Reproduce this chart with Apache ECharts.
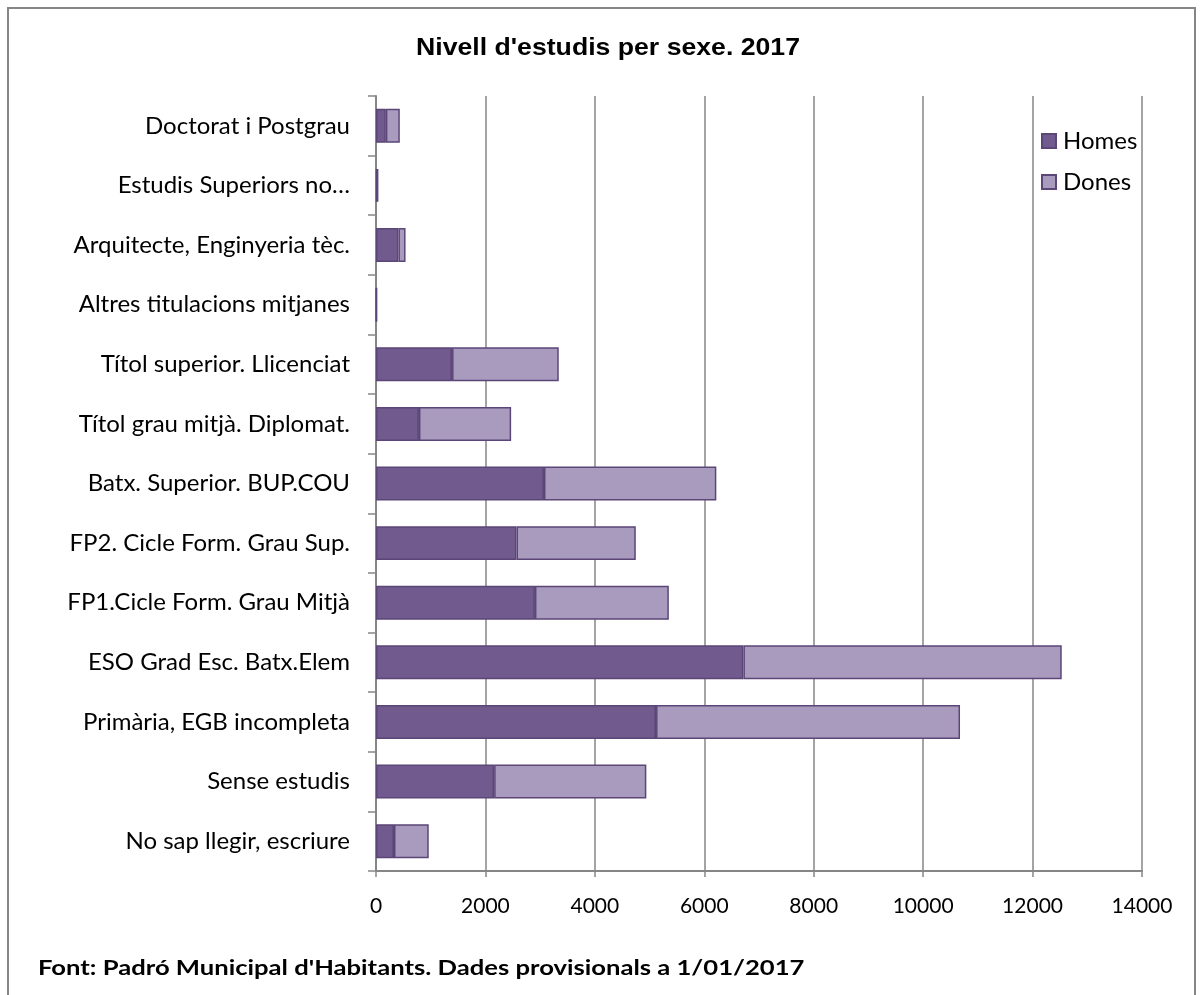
<!DOCTYPE html>
<html>
<head>
<meta charset="utf-8">
<script src="https://cdn.jsdelivr.net/npm/echarts@6/dist/echarts.min.js"></script>
<style>
html,body{margin:0;padding:0;background:#fff;}
#chart{width:1202px;height:995px;}
</style>
</head>
<body>
<div id="chart"></div>
<script>
// Categories, top to bottom as displayed
const categories = [
  "Doctorat i Postgrau",
  "Estudis Superiors no…",
  "Arquitecte, Enginyeria tèc.",
  "Altres titulacions mitjanes",
  "Títol superior. Llicenciat",
  "Títol grau mitjà. Diplomat.",
  "Batx. Superior. BUP.COU",
  "FP2. Cicle Form. Grau Sup.",
  "FP1.Cicle Form. Grau Mitjà",
  "ESO Grad Esc. Batx.Elem",
  "Primària, EGB incompleta",
  "Sense estudis",
  "No sap llegir, escriure"
];
const homes = [180, 20, 410, 8, 1390, 785, 3070, 2568, 2905, 6715, 5118, 2159, 329];
const dones = [255, 20, 130, 6, 1950, 1685, 3150, 2180, 2447, 5818, 5556, 2782, 635];
const seriesNames = ["Homes", "Dones"];
const titleText = "Nivell d'estudis per sexe. 2017";
const sourceText = "Font: Padró Municipal d'Habitants. Dades provisionals a 1/01/2017";

const chart = echarts.init(document.getElementById('chart'), null, {renderer: 'canvas'});
const bodyFont = 'Lato';
const option = {
  backgroundColor: '#ffffff',
  animation: false,
  graphic: [
    {type: 'rect', shape: {x: 8, y: 8, width: 1187, height: 990}, style: {fill: 'none', stroke: '#868686', lineWidth: 2}, silent: true},
    {type: 'text', x: 608, y: 48, scaleX: 1.11, silent: true,
     style: {text: titleText, fontFamily: 'Liberation Sans', fontWeight: 'bold', fontSize: 24, fill: '#000',
             textAlign: 'center', textVerticalAlign: 'middle'}},
    {type: 'text', x: 38, y: 968, scaleX: 1.22, silent: true,
     style: {text: sourceText, fontFamily: bodyFont, fontWeight: 'bold', fontSize: 21, fill: '#000',
             textAlign: 'left', textVerticalAlign: 'middle'}}
  ],
  legend: {
    orient: 'vertical',
    left: 1036,
    top: 124,
    itemWidth: 14,
    itemHeight: 14,
    itemGap: 17,
    icon: 'rect',
    textStyle: {fontFamily: bodyFont, fontSize: 24, color: '#000', padding: [0,0,0,2]},
    data: seriesNames
  },
  grid: {left: 376, right: 60, top: 96, bottom: 124, containLabel: false},
  xAxis: {
    type: 'value',
    min: 0, max: 14000, interval: 2000,
    axisLine: {show: true, lineStyle: {color: '#868686', width: 2}},
    axisTick: {show: true, length: 6, lineStyle: {color: '#868686', width: 1.5}},
    splitLine: {show: true, lineStyle: {color: '#868686', width: 1.5}},
    axisLabel: {fontFamily: bodyFont, fontSize: 21, color: '#000', margin: 25,
                formatter: function (v) { return String(v); }}
  },
  yAxis: {
    type: 'category',
    inverse: true,
    data: categories,
    axisLine: {show: true, lineStyle: {color: '#868686', width: 2}},
    axisTick: {show: true, length: 8, lineStyle: {color: '#868686', width: 1.5}},
    axisLabel: {fontFamily: bodyFont, fontSize: 24, color: '#000', margin: 26}
  },
  series: [
    {
      name: seriesNames[0], type: 'bar', stack: 'total', data: homes,
      barCategoryGap: '43%',
      itemStyle: {color: '#705A8E', borderColor: '#5B4677', borderWidth: 1.5}
    },
    {
      name: seriesNames[1], type: 'bar', stack: 'total', data: dones,
      barCategoryGap: '43%',
      itemStyle: {color: '#A99BBE', borderColor: '#5B4677', borderWidth: 1.5}
    }
  ]
};
chart.setOption(option);
</script>
</body>
</html>
